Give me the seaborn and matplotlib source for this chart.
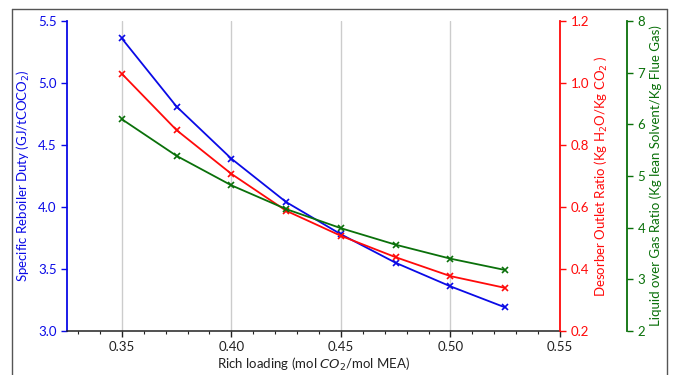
import matplotlib
matplotlib.use("Agg")
import matplotlib.pyplot as plt
import seaborn as sns
import pandas as pd
from matplotlib.ticker import MultipleLocator
from matplotlib.lines import Line2D

sns.set_style("white")
plt.rcParams['font.family'] = ['Lato', 'DejaVu Sans']
plt.rcParams['mathtext.fontset'] = 'dejavusans'

rich_loading = [0.35, 0.375, 0.40, 0.425, 0.45, 0.475, 0.50, 0.525]
reboiler_duty = [5.36, 4.81, 4.39, 4.04, 3.78, 3.55, 3.36, 3.19]
desorber_ratio = [1.03, 0.848, 0.707, 0.588, 0.507, 0.438, 0.377, 0.339]
lg_ratio = [6.10, 5.39, 4.82, 4.36, 3.99, 3.67, 3.40, 3.18]

df = pd.DataFrame({"x": rich_loading, "duty": reboiler_duty,
                   "desorb": desorber_ratio, "lg": lg_ratio})

fig = plt.figure(figsize=(6.74, 3.75), dpi=100)
ax = fig.add_axes([67/674, 1-331/375, (560-67)/674, (331-21)/375])
ax2 = ax.twinx()
ax3 = ax.twinx()

blue, red, green = "#0a0ae6", "#ff0a0a", "#0a700a"
fs = 9.5

sns.lineplot(data=df, x="x", y="duty", ax=ax, color=blue, marker="x",
             markersize=4, markeredgewidth=1.2, linewidth=1.3, markeredgecolor=blue)
sns.lineplot(data=df, x="x", y="desorb", ax=ax2, color=red, marker="x",
             markersize=4, markeredgewidth=1.2, linewidth=1.3, markeredgecolor=red)
sns.lineplot(data=df, x="x", y="lg", ax=ax3, color=green, marker="x",
             markersize=4, markeredgewidth=1.2, linewidth=1.3, markeredgecolor=green)

ax.set_xlim(0.325, 0.55)
ax.set_ylim(3.0, 5.5)
ax2.set_ylim(0.2, 1.2)
ax3.set_ylim(2, 8)

ax.xaxis.set_major_locator(MultipleLocator(0.05))
ax.xaxis.set_minor_locator(MultipleLocator(0.01))
ax.yaxis.set_major_locator(MultipleLocator(0.5))
ax2.yaxis.set_major_locator(MultipleLocator(0.2))
ax3.yaxis.set_major_locator(MultipleLocator(1))
ax.xaxis.set_major_formatter(plt.FuncFormatter(lambda v, p: f"{v:.2f}"))
ax.yaxis.set_major_formatter(plt.FuncFormatter(lambda v, p: f"{v:.1f}"))
ax2.yaxis.set_major_formatter(plt.FuncFormatter(lambda v, p: f"{v:.1f}"))
ax3.yaxis.set_major_formatter(plt.FuncFormatter(lambda v, p: f"{v:.0f}"))

ax.grid(True, axis="x", color="#cccccc", linewidth=1)
ax.grid(False, axis="y")
ax2.grid(False); ax3.grid(False)

for a in (ax, ax2, ax3):
    a.spines["top"].set_visible(False)
ax.spines["right"].set_visible(False)
ax2.spines["left"].set_visible(False)
ax3.spines["left"].set_visible(False)
ax2.spines["bottom"].set_visible(False)
ax3.spines["bottom"].set_visible(False)
ax.spines["left"].set_color(blue)
ax.spines["left"].set_linewidth(1.3)
ax.spines["bottom"].set_color("#222222")
ax.spines["bottom"].set_linewidth(1.1)
ax2.spines["right"].set_color(red)
ax2.spines["right"].set_linewidth(1.3)
ax3.spines["right"].set_color(green)
ax3.spines["right"].set_linewidth(1.3)
ax3.spines["right"].set_position(("axes", 1 + 67/493))

ax.tick_params(axis="x", which="major", direction="out", length=4, width=1, labelsize=fs, colors="#222222", bottom=True)
ax.tick_params(axis="x", which="minor", direction="out", length=2.5, width=0.8, colors="#222222", bottom=True)
ax.tick_params(axis="y", direction="out", length=4, width=1, labelsize=fs, colors=blue, left=True)
ax2.tick_params(axis="y", direction="out", length=4, width=1, labelsize=fs, colors=red, right=True)
ax3.tick_params(axis="y", direction="out", length=4, width=1, labelsize=fs, colors=green, right=True)

ax.set_xlabel("Rich loading (mol $CO_2$/mol MEA)", fontsize=fs, color="#222222", labelpad=2)
ax.set_ylabel("Specific Reboiler Duty (GJ/tCOCO$_2$)", fontsize=fs, color=blue, labelpad=4)
ax2.set_ylabel("Desorber Outlet Ratio (Kg H$_2$O/Kg CO$_2$ )", fontsize=fs, color=red, labelpad=3)
ax3.set_ylabel("Liquid over Gas Ratio (Kg lean Solvent/Kg Flue Gas)", fontsize=fs, color=green, labelpad=3)

# outer frame
fc = "#555555"
for xs, ys in [([12/674, 12/674], [0, 1-9/375]), ([12/674, 667/674], [1-9/375, 1-9/375]),
               ([667/674, 667/674], [1-9/375, 0])]:
    fig.add_artist(Line2D(xs, ys, color=fc, linewidth=1.0, transform=fig.transFigure))

fig.savefig("out.png", dpi=100)
